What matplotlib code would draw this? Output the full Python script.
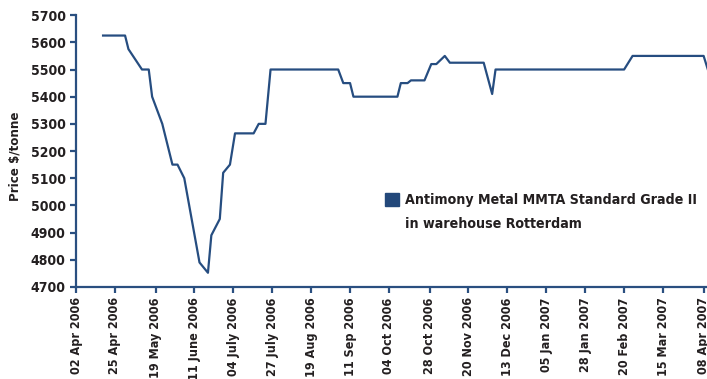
import matplotlib
matplotlib.use("Agg")
from datetime import datetime
import matplotlib.pyplot as plt
import matplotlib.dates as mdates
from matplotlib.patches import Patch

# price series (date, $/tonne)
dates = ["2006-04-18", "2006-05-01", "2006-05-03", "2006-05-11", "2006-05-15",
         "2006-05-17", "2006-05-23", "2006-05-29", "2006-06-01", "2006-06-05",
         "2006-06-14", "2006-06-19", "2006-06-21", "2006-06-26", "2006-06-28",
         "2006-07-02", "2006-07-05", "2006-07-16", "2006-07-19", "2006-07-23",
         "2006-07-26", "2006-09-04", "2006-09-07", "2006-09-11", "2006-09-13",
         "2006-10-09", "2006-10-11", "2006-10-15", "2006-10-17", "2006-10-25",
         "2006-10-29", "2006-11-01", "2006-11-06", "2006-11-09", "2006-11-29",
         "2006-12-04", "2006-12-06", "2007-02-20", "2007-02-25", "2007-04-08",
         "2007-04-11"]
prices = [5625, 5625, 5575, 5500, 5500,
          5400, 5300, 5150, 5150, 5100,
          4790, 4752, 4890, 4950, 5120,
          5150, 5265, 5265, 5300, 5300,
          5500, 5500, 5450, 5450, 5400,
          5400, 5450, 5450, 5460, 5460,
          5520, 5520, 5550, 5525, 5525,
          5410, 5500, 5500, 5550, 5550,
          5490]

tick_dates = ["2006-04-02", "2006-04-25", "2006-05-19", "2006-06-11", "2006-07-04",
              "2006-07-27", "2006-08-19", "2006-09-11", "2006-10-04", "2006-10-28",
              "2006-11-20", "2006-12-13", "2007-01-05", "2007-01-28", "2007-02-20",
              "2007-03-15", "2007-04-08"]
tick_labels = ["02 Apr 2006", "25 Apr 2006", "19 May 2006", "11 June 2006",
               "04 July 2006", "27 July 2006", "19 Aug 2006", "11 Sep 2006",
               "04 Oct 2006", "28 Oct 2006", "20 Nov 2006", "13 Dec 2006",
               "05 Jan 2007", "28 Jan 2007", "20 Feb 2007", "15 Mar 2007",
               "08 Apr 2007"]
y_ticks = list(range(4700, 5800, 100))

legend_lines = ["Antimony Metal MMTA Standard Grade II", "in warehouse Rotterdam"]

LINE = "#264d80"
AXIS = "#2a4f80"
TEXT = "#231f20"

plt.rcParams['font.family'] = ["DejaVu Sans"]
plt.rcParams['font.stretch'] = 'condensed'
plt.rcParams['font.weight'] = 'bold'
plt.rcParams['axes.labelweight'] = 'bold'


def to_dt(lst):
    return [datetime.strptime(d, "%Y-%m-%d") for d in lst]


fig = plt.figure(figsize=(7.07, 3.79), dpi=100)
ax = fig.add_axes([0.1075, 0.243, 0.8925, 0.717])

ax.plot(to_dt(dates), prices, color=LINE, linewidth=1.6)

ax.set_xlim(datetime(2006, 4, 2), datetime(2007, 4, 10))
ax.set_ylim(4700, 5700)
ax.set_xticks(mdates.date2num(to_dt(tick_dates)))
ax.set_xticklabels(tick_labels, rotation=90, fontsize=9, color=TEXT)
ax.set_yticks(y_ticks)
ax.set_yticklabels([str(v) for v in y_ticks], fontsize=10, color=TEXT)
ax.set_ylabel("Price $/tonne", fontsize=9.5, color=TEXT, labelpad=6)
ax.yaxis.set_label_coords(-0.087, 0.48)

for side in ("top", "right"):
    ax.spines[side].set_visible(False)
for side in ("left", "bottom"):
    ax.spines[side].set_color(AXIS)
    ax.spines[side].set_linewidth(1.6)
ax.tick_params(axis="both", direction="out", length=4.5, width=1.6,
               color=AXIS, pad=3)

# second legend row carries no swatch, it is just the wrapped text
handles = [Patch(facecolor="#23487a", edgecolor="#23487a"),
           Patch(facecolor="none", edgecolor="none")]
ax.legend(handles, legend_lines,
          loc="upper left", bbox_to_anchor=(0.489, 0.345), frameon=False,
          fontsize=10.2, handlelength=1.0, handleheight=1.0, handletextpad=0.45,
          labelspacing=0.7, borderpad=0, borderaxespad=0, labelcolor=TEXT)

fig.savefig("out.png", dpi=100)
